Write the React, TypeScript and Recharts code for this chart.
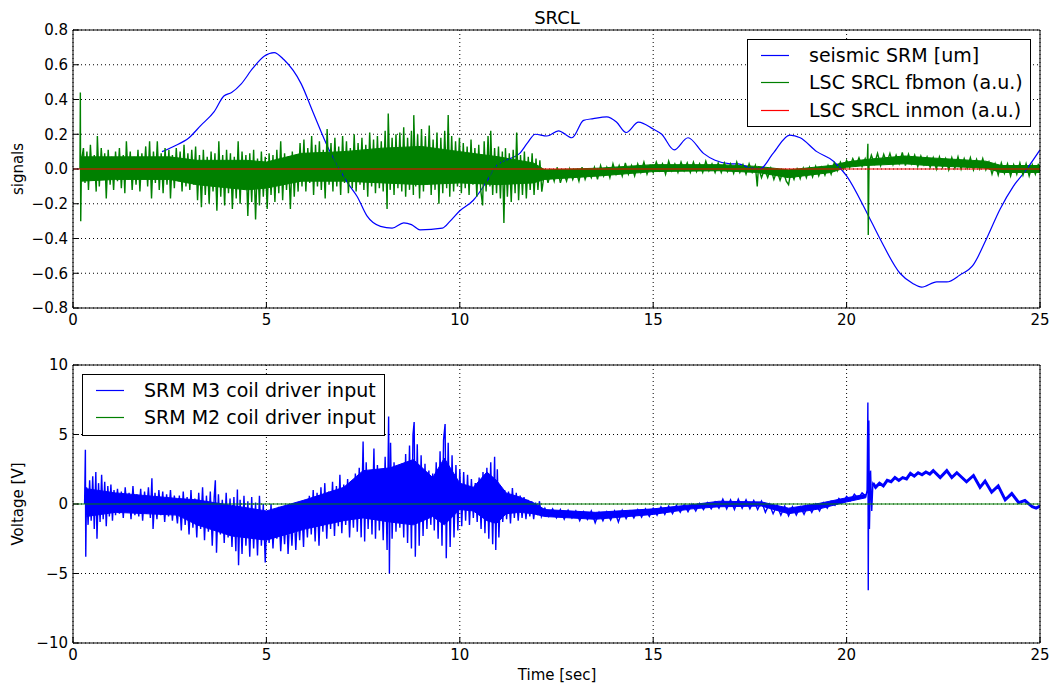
import React from "react";
import { ComposedChart, Line, Area, XAxis, YAxis, CartesianGrid, Legend } from "recharts";

const FONT = "'DejaVu Sans', sans-serif";

const timeTicks = [0, 5, 10, 15, 20, 25];
const signalTicks = [-0.8, -0.6, -0.4, -0.2, 0, 0.2, 0.4, 0.6, 0.8];
const voltTicks = [-10, -5, 0, 5, 10];

// top panel: [time, value]
const seismicSRM: [number, number][] = [
  [2.3, 0.1], [2.6, 0.13], [3.0, 0.18], [3.3, 0.25], [3.65, 0.33], [3.9, 0.42], [4.1, 0.44],
  [4.35, 0.49], [4.65, 0.58], [4.95, 0.65], [5.2, 0.67], [5.45, 0.63], [5.9, 0.49], [6.2, 0.33],
  [6.6, 0.12], [7.1, -0.08], [7.35, -0.16], [7.6, -0.27], [7.95, -0.33], [8.25, -0.34],
  [8.55, -0.31], [8.75, -0.32], [8.97, -0.35], [9.55, -0.34], [9.75, -0.3], [10.0, -0.24],
  [10.35, -0.18], [10.7, -0.07], [10.95, 0.02], [11.3, 0.06], [11.55, 0.09], [11.75, 0.15],
  [11.95, 0.2], [12.25, 0.19], [12.55, 0.22], [12.9, 0.18], [13.2, 0.28], [13.45, 0.29],
  [13.8, 0.3], [14.05, 0.27], [14.3, 0.21], [14.62, 0.27], [15.0, 0.23], [15.22, 0.2],
  [15.54, 0.11], [15.9, 0.18], [16.3, 0.09], [16.6, 0.05], [17.0, 0.03], [17.2, 0.03],
  [17.45, 0.01], [17.76, 0.0], [18.1, 0.09], [18.53, 0.195], [18.8, 0.18], [19.23, 0.1],
  [19.66, 0.045], [20.0, -0.04], [20.52, -0.25], [20.86, -0.4], [21.38, -0.6], [21.72, -0.66],
  [21.94, -0.68], [22.33, -0.65], [22.59, -0.65], [22.93, -0.61], [23.28, -0.55], [23.62, -0.4],
  [23.97, -0.23], [24.31, -0.1], [24.66, 0.0], [25.0, 0.11],
];

const fbmonSRCL: [number, number][] = [
  [0.18, 0], [0.19, 0.44], [0.2, -0.3], [0.22, 0.05], [0.27, 0.12], [0.31, -0.08], [0.36, 0.1],
  [0.4, -0.12], [0.45, 0.14], [0.5, -0.06], [0.55, 0.08], [0.6, -0.13], [0.63, 0.19], [0.68, -0.1],
  [0.73, 0.12], [0.78, -0.04], [0.82, 0.09], [0.86, -0.17], [0.91, 0.11], [0.96, -0.09], [1.0, 0.07],
  [1.05, -0.12], [1.1, 0.1], [1.15, -0.07], [1.2, 0.12], [1.25, -0.11], [1.3, 0.08], [1.34, -0.14],
  [1.38, 0.16], [1.43, -0.06], [1.48, 0.1], [1.53, -0.12], [1.58, 0.07], [1.63, -0.09], [1.68, 0.11],
  [1.73, -0.13], [1.78, 0.09], [1.83, -0.05], [1.88, 0.13], [1.93, -0.1], [1.98, 0.16], [2.03, -0.17],
  [2.08, 0.1], [2.13, -0.08], [2.18, 0.16], [2.23, -0.12], [2.28, 0.09], [2.33, -0.14], [2.38, 0.12],
  [2.43, -0.09], [2.48, 0.11], [2.52, -0.17], [2.57, 0.08], [2.62, -0.11], [2.67, 0.12], [2.72, -0.07],
  [2.77, 0.1], [2.82, -0.13], [2.87, 0.14], [2.92, -0.1], [2.97, 0.09], [3.02, -0.12], [3.07, 0.11],
  [3.12, -0.09], [3.17, 0.13], [3.22, -0.18], [3.27, 0.08], [3.32, -0.22], [3.37, 0.11], [3.42, -0.15],
  [3.47, 0.07], [3.52, -0.2], [3.57, 0.1], [3.62, -0.13], [3.67, 0.09], [3.72, -0.24], [3.77, 0.16],
  [3.82, -0.16], [3.87, 0.08], [3.92, -0.21], [3.97, 0.11], [4.02, -0.14], [4.07, 0.09], [4.12, -0.23],
  [4.17, 0.07], [4.22, -0.17], [4.27, 0.16], [4.32, -0.2], [4.37, 0.1], [4.42, -0.12], [4.47, 0.08],
  [4.52, -0.27], [4.57, 0.09], [4.62, -0.19], [4.67, 0.11], [4.72, -0.29], [4.77, 0.06], [4.82, -0.21],
  [4.87, 0.1], [4.92, -0.16], [4.97, 0.07], [5.02, -0.23], [5.07, 0.09], [5.12, -0.15], [5.17, 0.08],
  [5.22, -0.19], [5.27, 0.11], [5.32, -0.14], [5.37, 0.16], [5.42, -0.18], [5.47, 0.09], [5.52, -0.12],
  [5.57, 0.07], [5.62, -0.23], [5.67, 0.1], [5.72, -0.16], [5.77, 0.08], [5.82, -0.13], [5.87, 0.15],
  [5.92, -0.1], [5.97, 0.17], [6.02, -0.13], [6.07, 0.12], [6.12, -0.08], [6.17, 0.19], [6.22, -0.15],
  [6.27, 0.14], [6.32, -0.1], [6.37, 0.16], [6.42, -0.12], [6.47, 0.11], [6.52, -0.17], [6.57, 0.23],
  [6.62, -0.09], [6.67, 0.15], [6.72, -0.13], [6.77, 0.18], [6.82, -0.1], [6.87, 0.13], [6.92, -0.15],
  [6.97, 0.19], [7.02, -0.08], [7.07, 0.16], [7.12, -0.14], [7.17, 0.12], [7.22, -0.11], [7.27, 0.2],
  [7.32, -0.13], [7.37, 0.15], [7.42, -0.09], [7.47, 0.18], [7.52, -0.12], [7.57, 0.14], [7.62, -0.16],
  [7.67, 0.21], [7.72, -0.1], [7.77, 0.17], [7.82, -0.14], [7.87, 0.19], [7.92, -0.11], [7.97, 0.16],
  [8.02, -0.13], [8.07, 0.22], [8.12, -0.23], [8.15, 0.32], [8.2, -0.12], [8.25, 0.18], [8.3, -0.15],
  [8.35, 0.2], [8.4, -0.11], [8.45, 0.21], [8.5, -0.13], [8.55, 0.24], [8.6, -0.16], [8.65, 0.18],
  [8.7, -0.12], [8.75, 0.22], [8.8, -0.15], [8.81, 0.31], [8.86, -0.1], [8.91, 0.2], [8.96, -0.17],
  [9.01, 0.23], [9.06, -0.13], [9.11, 0.19], [9.16, -0.09], [9.21, 0.25], [9.26, -0.15], [9.31, 0.17],
  [9.36, -0.12], [9.41, 0.21], [9.46, -0.2], [9.51, 0.18], [9.56, -0.14], [9.61, 0.22], [9.66, -0.11],
  [9.7, 0.31], [9.74, -0.16], [9.79, 0.19], [9.84, -0.13], [9.89, 0.16], [9.94, -0.1], [9.99, 0.18],
  [10.04, -0.14], [10.09, 0.15], [10.14, -0.11], [10.19, 0.13], [10.24, -0.15], [10.29, 0.17],
  [10.34, -0.09], [10.39, 0.12], [10.44, -0.16], [10.49, 0.14], [10.54, -0.12], [10.59, -0.21],
  [10.63, 0.16], [10.68, -0.13], [10.73, 0.19], [10.78, -0.1], [10.8, 0.22], [10.85, -0.15],
  [10.9, 0.12], [10.95, -0.14], [11.0, 0.13], [11.05, -0.17], [11.1, 0.1], [11.14, -0.31],
  [11.18, 0.12], [11.23, -0.16], [11.28, 0.09], [11.33, -0.19], [11.38, 0.11], [11.43, -0.14],
  [11.47, 0.21], [11.52, -0.18], [11.57, 0.08], [11.62, -0.15], [11.67, 0.1], [11.72, -0.17],
  [11.77, 0.07], [11.82, -0.12], [11.87, 0.09], [11.92, -0.15], [11.97, 0.06], [12.02, -0.12],
  [12.07, 0.05], [12.12, -0.13], [12.2, 0.0], [12.28, -0.08], [12.36, -0.01], [12.44, -0.07],
  [12.52, 0.01], [12.6, -0.08], [12.68, -0.02], [12.76, -0.07], [12.84, 0.0], [12.92, -0.06],
  [13.0, -0.01], [13.08, -0.07], [13.16, 0.01], [13.24, -0.06], [13.32, -0.01], [13.4, -0.05],
  [13.48, 0.01], [13.56, -0.06], [13.64, 0.02], [13.72, -0.04], [13.8, 0.01], [13.88, -0.05],
  [13.96, 0.03], [14.04, -0.03], [14.12, 0.02], [14.2, -0.04], [14.28, 0.035], [14.36, -0.03],
  [14.44, 0.02], [14.52, -0.04], [14.6, 0.03], [14.68, -0.02], [14.76, 0.04], [14.84, -0.03],
  [14.92, 0.02], [15.0, -0.02], [15.08, 0.04], [15.16, -0.01], [15.24, 0.03], [15.32, -0.03],
  [15.4, 0.045], [15.48, -0.01], [15.56, 0.03], [15.64, -0.02], [15.72, 0.04], [15.8, -0.01],
  [15.88, 0.035], [15.96, -0.02], [16.04, 0.04], [16.12, -0.015], [16.2, 0.03], [16.28, -0.02],
  [16.36, 0.045], [16.44, -0.01], [16.52, 0.03], [16.6, -0.02], [16.68, 0.035], [16.76, -0.02],
  [16.84, 0.035], [16.92, -0.015], [17.0, 0.03], [17.08, -0.025], [17.16, 0.04], [17.24, -0.02],
  [17.32, 0.025], [17.4, -0.03], [17.48, 0.03], [17.56, -0.02], [17.64, 0.02], [17.69, -0.1],
  [17.72, 0.01], [17.8, -0.05], [17.88, 0.0], [17.96, -0.05], [18.04, 0.005], [18.12, -0.06],
  [18.2, -0.01], [18.28, -0.065], [18.36, -0.01], [18.44, -0.07], [18.5, -0.09], [18.56, -0.015],
  [18.64, -0.06], [18.72, 0.0], [18.8, -0.055], [18.88, 0.005], [18.96, -0.05], [19.04, 0.01],
  [19.12, -0.045], [19.2, 0.015], [19.28, -0.04], [19.36, 0.01], [19.44, -0.035], [19.52, 0.02],
  [19.6, -0.03], [19.68, 0.035], [19.76, -0.01], [19.84, 0.04], [19.92, 0.0], [20.0, 0.05],
  [20.08, 0.01], [20.16, 0.06], [20.24, 0.02], [20.32, 0.065], [20.4, 0.015], [20.48, 0.06],
  [20.53, 0.02], [20.55, 0.145], [20.56, -0.38], [20.58, 0.03], [20.64, 0.08], [20.72, 0.03],
  [20.8, 0.09], [20.88, 0.02], [20.96, 0.085], [21.04, 0.035], [21.12, 0.09], [21.2, 0.025],
  [21.28, 0.08], [21.36, 0.03], [21.44, 0.095], [21.52, 0.02], [21.6, 0.085], [21.68, 0.03],
  [21.76, 0.08], [21.84, 0.015], [21.92, 0.075], [22.0, 0.025], [22.08, 0.07], [22.16, 0.01],
  [22.24, 0.065], [22.32, 0.0], [22.4, 0.07], [22.48, 0.01], [22.56, 0.06], [22.64, -0.005],
  [22.72, 0.065], [22.8, 0.005], [22.88, 0.07], [22.96, 0.0], [23.04, 0.06], [23.12, 0.005],
  [23.2, 0.065], [23.28, -0.005], [23.36, 0.055], [23.44, 0.0], [23.52, 0.06], [23.6, -0.005],
  [23.68, 0.04], [23.76, -0.03], [23.84, 0.03], [23.92, -0.035], [24.0, 0.035], [24.08, -0.025],
  [24.16, 0.03], [24.24, -0.04], [24.32, 0.025], [24.4, -0.03], [24.48, 0.035], [24.56, -0.035],
  [24.64, 0.03], [24.72, -0.04], [24.8, 0.025], [24.88, -0.03], [24.96, 0.03], [25.0, -0.02],
];

// dense core of the fbmon trace: [time, low, high]
const fbmonCore: [number, number, number][] = [
  [0.21, -0.07, 0.07], [1.1, -0.06, 0.07], [2.5, -0.06, 0.07], [3.2, -0.09, 0.05], [4.5, -0.12, 0.05],
  [5.0, -0.11, 0.04], [5.9, -0.07, 0.09], [7.0, -0.07, 0.1], [8.0, -0.08, 0.12], [9.0, -0.09, 0.13],
  [10.0, -0.08, 0.1], [11.0, -0.09, 0.07], [11.9, -0.08, 0.035], [12.2, -0.06, -0.005], [13.6, -0.04, 0.005],
  [15.0, -0.015, 0.025], [16.7, -0.01, 0.025], [17.7, -0.02, 0.015], [18.5, -0.05, -0.005],
  [19.6, -0.02, 0.02], [20.0, 0.01, 0.04], [20.5, 0.02, 0.055], [21.5, 0.03, 0.075], [22.1, 0.02, 0.065],
  [23.6, 0.005, 0.045], [24.0, -0.02, 0.02], [25.0, -0.02, 0.02],
];

const inmonSRCL: [number, number][] = [[0, 0], [25, 0]];

// bottom panel: [time, volts]
const coilM3: [number, number][] = [
  [0.3, 0], [0.32, 3.9], [0.33, -3.8], [0.35, 1.2], [0.39, -1.5], [0.43, 1.7], [0.47, -1.2],
  [0.51, 2.0], [0.55, -1.8], [0.59, 2.3], [0.62, -2.5], [0.66, 1.5], [0.7, -1.3], [0.74, 2.1],
  [0.78, -1.1], [0.82, 1.6], [0.86, -1.6], [0.9, 1.3], [0.94, -0.9], [0.98, 1.4], [1.02, -1.2],
  [1.06, 1.0], [1.1, -0.8], [1.15, 1.1], [1.2, -0.7], [1.25, 0.9], [1.3, -1.0], [1.35, 1.2],
  [1.4, -0.6], [1.45, 0.8], [1.5, -1.1], [1.55, 1.3], [1.6, -0.8], [1.65, 0.7], [1.7, -0.9],
  [1.75, 1.1], [1.8, -1.2], [1.85, 0.9], [1.9, -0.7], [1.95, 1.2], [2.0, -1.0], [2.04, 1.85],
  [2.07, -1.8], [2.12, 0.8], [2.17, -1.1], [2.22, 1.0], [2.27, -0.8], [2.32, 0.9], [2.37, -1.3],
  [2.42, 0.7], [2.47, -0.9], [2.52, 1.0], [2.57, -1.2], [2.62, 0.6], [2.7, -1.4], [2.75, 0.6],
  [2.8, -1.9], [2.85, 0.9], [2.9, -1.5], [2.95, 0.5], [3.0, -2.2], [3.05, 1.0], [3.1, -1.7],
  [3.15, 0.4], [3.2, -2.4], [3.25, 0.8], [3.3, -1.8], [3.35, 1.2], [3.4, -2.6], [3.45, 0.6],
  [3.5, -2.0], [3.55, 0.9], [3.6, -3.0], [3.65, 0.5], [3.68, 1.7], [3.71, -3.5], [3.76, 0.7],
  [3.81, -2.2], [3.86, 0.3], [3.91, -2.8], [3.96, 0.8], [4.01, -2.4], [4.06, 0.4], [4.11, -3.1],
  [4.16, 0.5], [4.21, -3.4], [4.25, 1.05], [4.28, -4.4], [4.32, 0.3], [4.37, -3.6], [4.42, 0.6],
  [4.47, -3.0], [4.52, 0.2], [4.57, -3.8], [4.62, 0.5], [4.67, -3.2], [4.72, 0.1], [4.77, -3.7],
  [4.82, 0.6], [4.87, -3.0], [4.92, 0.0], [4.97, -4.2], [5.02, -0.5], [5.07, -2.8], [5.12, 0.0],
  [5.17, -3.2], [5.22, -0.6], [5.27, -2.5], [5.32, -0.2], [5.37, -3.4], [5.42, -0.8], [5.47, -2.9],
  [5.52, -0.3], [5.56, -3.6], [5.61, -0.5], [5.66, -3.0], [5.71, -0.1], [5.76, -3.3], [5.81, -0.4],
  [5.86, -2.6], [5.91, 0.2], [5.96, -3.1], [6.0, 0.3], [6.06, -2.4], [6.11, 0.6], [6.16, -2.2],
  [6.21, 1.0], [6.26, -2.7], [6.31, 0.8], [6.36, -3.0], [6.41, 1.2], [6.46, -2.0], [6.51, 1.5],
  [6.56, -2.5], [6.61, 0.9], [6.66, -1.8], [6.71, 1.6], [6.76, -2.3], [6.81, 1.3], [6.86, -1.6],
  [6.9, 2.1], [6.95, -2.1], [7.0, 1.4], [7.05, -1.5], [7.1, 1.8], [7.15, -2.4], [7.2, 1.2],
  [7.25, -1.7], [7.3, 2.2], [7.35, -2.0], [7.4, 2.6], [7.45, -2.4], [7.5, 4.5], [7.54, -2.7],
  [7.58, 3.0], [7.63, -1.8], [7.68, 2.4], [7.73, -2.2], [7.78, 4.0], [7.82, -2.5], [7.87, 2.8],
  [7.92, -1.9], [7.97, 2.2], [8.02, -2.6], [8.07, 3.4], [8.12, -3.3], [8.16, 6.3], [8.18, -5.0],
  [8.21, 4.4], [8.25, -2.5], [8.3, 3.0], [8.35, -2.0], [8.4, 2.5], [8.45, -1.7], [8.5, 2.9],
  [8.55, -2.4], [8.6, 3.6], [8.65, -2.8], [8.7, 4.2], [8.75, -3.2], [8.79, 5.0], [8.82, 5.9],
  [8.85, -3.8], [8.9, 4.3], [8.95, -3.0], [9.0, 3.5], [9.05, -2.3], [9.1, 2.9], [9.15, -1.8],
  [9.2, 2.4], [9.25, -1.5], [9.3, 2.2], [9.34, -1.9], [9.39, 3.0], [9.44, -2.5], [9.49, 3.8],
  [9.54, -3.0], [9.58, 4.6], [9.62, 5.75], [9.65, -3.9], [9.7, 4.4], [9.75, -3.1], [9.8, 3.5],
  [9.85, -2.4], [9.9, 2.8], [9.95, -1.9], [10.0, 2.5], [10.05, -1.6], [10.1, 2.3], [10.15, -1.2],
  [10.2, 2.1], [10.25, -1.5], [10.3, 1.8], [10.35, -1.0], [10.4, 1.5], [10.45, -1.3], [10.5, 1.9],
  [10.55, -1.8], [10.6, 2.3], [10.65, -2.1], [10.7, 2.6], [10.75, -2.5], [10.8, 3.0], [10.85, -2.9],
  [10.9, 3.4], [10.93, -3.3], [10.97, 2.5], [11.01, -2.4], [11.06, 1.2], [11.11, -1.3], [11.16, 1.0],
  [11.21, -1.1], [11.26, 0.9], [11.31, -1.4], [11.36, 1.15], [11.41, -1.0], [11.46, 0.8],
  [11.51, -1.2], [11.56, 0.6], [11.61, -1.0], [11.66, 0.5], [11.71, -1.1], [11.76, 0.3],
  [11.81, -0.9], [11.86, 0.2], [11.91, -1.1], [11.96, 0.1], [12.01, -0.8], [12.06, 0.2],
  [12.11, -0.9], [12.2, -0.3], [12.3, -0.9], [12.4, -0.35], [12.5, -1.0], [12.6, -0.4], [12.7, -1.1],
  [12.8, -0.45], [12.9, -1.0], [13.0, -0.5], [13.1, -1.2], [13.2, -0.55], [13.3, -1.1], [13.4, -0.5],
  [13.5, -1.35], [13.6, -0.6], [13.7, -1.2], [13.8, -0.55], [13.9, -1.15], [14.0, -0.5], [14.1, -1.3],
  [14.2, -0.45], [14.3, -1.05], [14.4, -0.5], [14.5, -1.0], [14.6, -0.4], [14.7, -0.95], [14.8, -0.35],
  [14.9, -0.9], [15.0, -0.3], [15.1, -0.8], [15.2, -0.2], [15.3, -0.75], [15.4, -0.15], [15.5, -0.7],
  [15.6, -0.1], [15.7, -0.6], [15.8, -0.05], [15.9, -0.55], [16.0, 0.0], [16.1, -0.5], [16.2, 0.05],
  [16.3, -0.4], [16.4, 0.1], [16.5, -0.35], [16.6, 0.15], [16.7, -0.3], [16.8, 0.35], [16.9, -0.35],
  [17.0, 0.3], [17.1, -0.4], [17.2, 0.35], [17.3, -0.3], [17.4, 0.3], [17.5, -0.35], [17.6, 0.25],
  [17.7, -0.4], [17.8, 0.2], [17.9, -0.6], [18.0, 0.0], [18.1, -0.7], [18.2, -0.1], [18.3, -0.8],
  [18.4, -0.15], [18.5, -0.85], [18.6, -0.2], [18.7, -0.8], [18.8, -0.2], [18.9, -0.75], [19.0, -0.1],
  [19.1, -0.6], [19.2, 0.0], [19.3, -0.5], [19.4, 0.1], [19.5, -0.3], [19.6, 0.2], [19.7, -0.1],
  [19.8, 0.4], [19.9, 0.1], [20.0, 0.55], [20.1, 0.25], [20.2, 0.7], [20.3, 0.4], [20.4, 0.8],
  [20.5, 0.55], [20.53, 1.0], [20.55, 7.3], [20.56, -6.2], [20.575, 6.0], [20.59, -1.8],
  [20.62, 2.4], [20.65, -0.5], [20.68, 1.5], [20.75, 1.2], [20.85, 1.5], [20.95, 1.3], [21.05, 1.7],
  [21.15, 1.6], [21.25, 1.9], [21.35, 1.7], [21.45, 1.9], [21.55, 1.8], [21.65, 2.2], [21.75, 2.0],
  [21.85, 2.25], [21.95, 2.1], [22.05, 2.3], [22.15, 2.15], [22.24, 2.4], [22.42, 1.9], [22.59, 2.4],
  [22.72, 1.9], [22.85, 2.25], [23.1, 1.6], [23.28, 2.05], [23.45, 1.2], [23.58, 1.65], [23.75, 0.85],
  [23.92, 1.3], [24.1, 0.3], [24.27, 0.75], [24.45, 0.1], [24.61, 0.25], [24.8, -0.2], [24.9, -0.3],
  [25.0, -0.15],
];

// dense core of the M3 trace: [time, low, high]
const coilM3Core: [number, number, number][] = [
  [0.35, -0.9, 1.1], [1.1, -0.6, 0.8], [2.7, -0.8, 0.4], [3.2, -1.5, 0.3], [4.1, -2.3, -0.1],
  [5.0, -2.6, -0.5], [6.0, -1.8, 0.3], [7.0, -1.2, 1.2], [7.5, -1.0, 2.4], [8.2, -1.3, 2.6],
  [8.8, -1.5, 3.2], [9.3, -0.9, 1.9], [9.6, -1.5, 3.3], [10.0, -0.4, 1.5], [10.35, -0.5, 1.2],
  [10.7, -1.2, 2.3], [10.95, -1.4, 1.7], [11.2, -0.7, 0.8], [11.55, -0.6, 0.5], [11.9, -0.7, 0.1],
  [12.2, -0.9, -0.4], [13.5, -1.1, -0.6], [15.0, -0.75, -0.35], [16.0, -0.35, -0.05],
  [16.7, -0.2, 0.2], [17.8, -0.15, 0.15], [18.5, -0.7, -0.3], [19.3, -0.35, 0.05], [20.0, 0.15, 0.45],
  [20.5, 0.45, 0.7],
];

const coilM2: [number, number][] = [[0, 0], [25, 0]];

const pts = (a: [number, number][]) => a.map(([t, v]) => ({ t, v }));
const band = (a: [number, number, number][]) => a.map(([t, lo, hi]) => ({ t, r: [lo, hi] }));
const minus = (s: string) => s.replace("-", "\u2212");
const fmtSignal = (v: number) => minus(v.toFixed(1));
const fmtVolt = (v: number) => minus(String(v));

const tickStyle = { fill: "#000", fontSize: 15, fontFamily: FONT };
const black = { stroke: "#000" };

type Item = { label: string; color: string };

function LegendBox({ items, width, height, rows }: { items: Item[]; width: number; height: number; rows: number[] }) {
  return (
    <div
      style={{
        position: "relative",
        width,
        height,
        border: "1px solid #000",
        boxSizing: "border-box",
        background: "#fff",
        fontFamily: FONT,
        fontSize: 19,
        color: "#000",
      }}
    >
      <svg width={width} height={height} style={{ position: "absolute", left: -1, top: -1 }}>
        {items.map((it, i) => (
          <line key={it.label} x1={14} x2={42} y1={rows[i] + 0.5} y2={rows[i] + 0.5} stroke={it.color} strokeWidth={1.2} />
        ))}
      </svg>
      {items.map((it, i) => (
        <div key={it.label} style={{ position: "absolute", left: 61, top: rows[i] - 13, lineHeight: "24px", whiteSpace: "nowrap" }}>
          {it.label}
        </div>
      ))}
    </div>
  );
}

const topItems: Item[] = [
  { label: "seismic SRM [um]", color: "#0000ff" },
  { label: "LSC SRCL fbmon (a.u.)", color: "#008000" },
  { label: "LSC SRCL inmon (a.u.)", color: "#ff0000" },
];
const bottomItems: Item[] = [
  { label: "SRM M3 coil driver input", color: "#0000ff" },
  { label: "SRM M2 coil driver input", color: "#008000" },
];

const textStyle: React.CSSProperties = {
  position: "absolute",
  fontFamily: FONT,
  color: "#000",
  whiteSpace: "nowrap",
  transform: "translate(-50%, -50%)",
};

export default function App() {
  return (
    <div style={{ position: "absolute", left: 0, top: 0, width: 1055, height: 688, background: "#fff" }}>
      <div style={{ ...textStyle, left: 557, top: 17, fontSize: 18 }}>SRCL</div>
      <div style={{ ...textStyle, left: 18, top: 169, fontSize: 15, transform: "translate(-50%, -50%) rotate(-90deg)" }}>signals</div>
      <div style={{ ...textStyle, left: 18, top: 504, fontSize: 15, transform: "translate(-50%, -50%) rotate(-90deg)" }}>Voltage [V]</div>
      <div style={{ ...textStyle, left: 557, top: 675, fontSize: 15 }}>Time [sec]</div>

      <div style={{ position: "absolute", left: 0, top: 0 }}>
        <ComposedChart width={1055} height={340} margin={{ top: 29, right: 14, bottom: 7, left: 0 }}>
          <CartesianGrid stroke="#000" strokeDasharray="1 3" />
          <XAxis dataKey="t" type="number" domain={[0, 25]} ticks={timeTicks} allowDataOverflow
            tick={tickStyle} tickSize={-6} tickMargin={12} height={25} axisLine={black} tickLine={black} />
          <XAxis xAxisId="top" orientation="top" type="number" domain={[0, 25]} ticks={timeTicks}
            tick={false} tickSize={-6} height={1} axisLine={black} tickLine={black} />
          <YAxis type="number" domain={[-0.8, 0.8]} ticks={signalTicks} allowDataOverflow tickFormatter={fmtSignal}
            tick={tickStyle} tickSize={-6} tickMargin={11} width={73} axisLine={black} tickLine={black} />
          <YAxis yAxisId="right" orientation="right" type="number" domain={[-0.8, 0.8]} ticks={signalTicks}
            tick={false} tickSize={-6} width={1} axisLine={black} tickLine={black} />
          <Line data={pts(seismicSRM)} dataKey="v" type="monotone" name="seismic SRM [um]" stroke="#0000ff" strokeWidth={1.2} dot={false} isAnimationActive={false} />
          <Area data={band(fbmonCore)} dataKey="r" type="linear" fill="#008000" fillOpacity={1} stroke="#008000" strokeWidth={1} isAnimationActive={false} />
          <Line data={pts(fbmonSRCL)} dataKey="v" name="LSC SRCL fbmon (a.u.)" stroke="#008000" strokeWidth={1.4} dot={false} isAnimationActive={false} />
          <Line data={pts(inmonSRCL)} dataKey="v" name="LSC SRCL inmon (a.u.)" stroke="#ff0000" strokeWidth={1.2} dot={false} isAnimationActive={false} />
          <Legend
            verticalAlign="middle"
            align="center"
            wrapperStyle={{ left: 747, top: 39, width: 284, height: 88 }}
            content={() => <LegendBox items={topItems} width={284} height={88} rows={[16, 43, 71]} />}
          />
        </ComposedChart>
      </div>

      <div style={{ position: "absolute", left: 0, top: 340 }}>
        <ComposedChart width={1055} height={348} margin={{ top: 24, right: 14, bottom: 15, left: 0 }}>
          <CartesianGrid stroke="#000" strokeDasharray="1 3" />
          <XAxis dataKey="t" type="number" domain={[0, 25]} ticks={timeTicks} allowDataOverflow
            tick={tickStyle} tickSize={-6} tickMargin={12} height={30} axisLine={black} tickLine={black} />
          <XAxis xAxisId="top" orientation="top" type="number" domain={[0, 25]} ticks={timeTicks}
            tick={false} tickSize={-6} height={1} axisLine={black} tickLine={black} />
          <YAxis type="number" domain={[-10, 10]} ticks={voltTicks} allowDataOverflow tickFormatter={fmtVolt}
            tick={tickStyle} tickSize={-6} tickMargin={11} width={73} axisLine={black} tickLine={black} />
          <YAxis yAxisId="right" orientation="right" type="number" domain={[-10, 10]} ticks={voltTicks}
            tick={false} tickSize={-6} width={1} axisLine={black} tickLine={black} />
          <Area data={band(coilM3Core)} dataKey="r" type="linear" fill="#0000ff" fillOpacity={1} stroke="#0000ff" strokeWidth={1} isAnimationActive={false} />
          <Line data={pts(coilM3)} dataKey="v" name="SRM M3 coil driver input" stroke="#0000ff" strokeWidth={1.4} dot={false} isAnimationActive={false} />
          <Line data={pts(coilM3.filter(([t]) => t > 20.66))} dataKey="v" stroke="#0000ff" strokeWidth={3} dot={false} isAnimationActive={false} />
          <Line data={pts(coilM2)} dataKey="v" name="SRM M2 coil driver input" stroke="#008000" strokeWidth={1.2} dot={false} isAnimationActive={false} />
          <Legend
            verticalAlign="middle"
            align="center"
            wrapperStyle={{ left: 82, top: 34, width: 303, height: 62 }}
            content={() => <LegendBox items={bottomItems} width={303} height={62} rows={[16, 43]} />}
          />
        </ComposedChart>
      </div>
    </div>
  );
}
